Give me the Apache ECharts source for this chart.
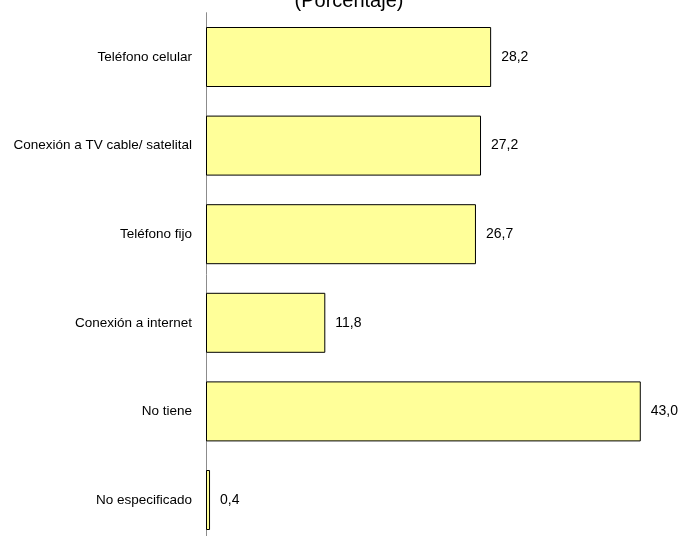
<!DOCTYPE html>
<html>
<head>
<meta charset="utf-8">
<script src="https://cdn.jsdelivr.net/npm/echarts@6/dist/echarts.min.js"></script>
<style>
  html, body { margin: 0; padding: 0; background: #fff; }
  #chart { width: 681px; height: 536px; }
</style>
</head>
<body>
<div id="chart"></div>
<script>
const categories = [
  'Teléfono celular',
  'Conexión a TV cable/ satelital',
  'Teléfono fijo',
  'Conexión a internet',
  'No tiene',
  'No especificado'
]
const values = [28.2, 27.2, 26.7, 11.8, 43.0, 0.4]

const font = 'Liberation Sans'

const chart = echarts.init(document.getElementById('chart'))

chart.setOption({
  backgroundColor: '#fff',
  animation: false,
  title: {
    text: '(Porcentaje)',
    left: 344,
    top: -14,
    textAlign: 'center',
    textStyle: {
      fontFamily: font,
      fontSize: 20,
      fontWeight: 'normal',
      color: '#000'
    }
  },
  grid: {
    left: 206,
    top: 12.7,
    width: 455,
    height: 531.6,
    outerBoundsMode: 'none'
  },
  xAxis: {
    type: 'value',
    min: 0,
    max: 45,
    show: false
  },
  yAxis: {
    type: 'category',
    data: categories,
    inverse: true,
    axisLine: { lineStyle: { color: '#8c8c8c', width: 1 } },
    axisTick: { show: false },
    axisLabel: {
      margin: 14,
      fontFamily: font,
      fontSize: 13.5,
      color: '#000'
    }
  },
  series: [
    {
      type: 'bar',
      data: values,
      barWidth: 60,
      itemStyle: {
        color: '#ffff99',
        borderColor: '#000',
        borderWidth: 1
      },
      label: {
        show: true,
        position: 'right',
        distance: 10,
        fontFamily: font,
        fontSize: 14,
        color: '#000',
        formatter: p => p.value.toFixed(1).replace('.', ',')
      }
    }
  ]
})
</script>
</body>
</html>
